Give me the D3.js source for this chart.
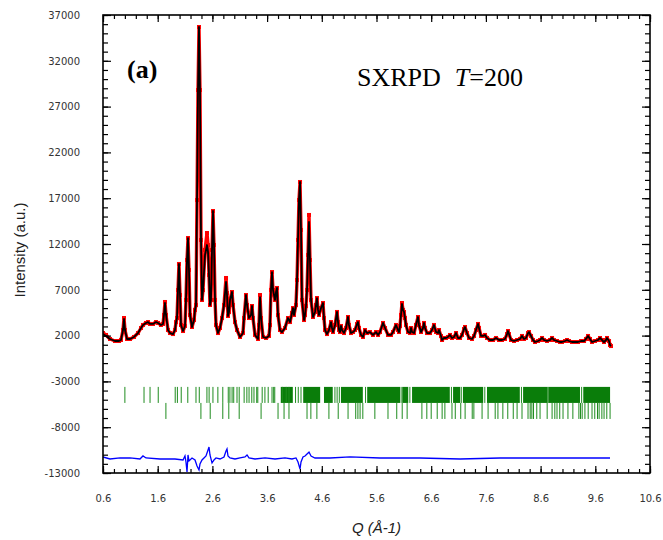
<!DOCTYPE html>
<html>
<head>
<meta charset="utf-8">
<script src="https://d3js.org/d3.v7.min.js"></script>
<style>
  body { margin: 0; background: #fff; }
  svg { display: block; }
</style>
</head>
<body>
<div class="chartDiv"></div>
<script>
"use strict";

//
/* Data: */
//

// Profile: Q positions, observed and calculated intensities
var qProfile = [0.600,0.655,0.728,0.819,0.893,0.929,0.966,0.984,1.002,1.039,1.094,1.167,1.240,1.295,1.331,1.386,1.423,1.459,1.514,1.569,1.606,1.660,1.697,1.715,1.733,1.752,1.788,1.825,1.880,1.916,1.935,1.953,1.971,1.989,2.008,2.026,2.063,2.099,2.117,2.136,2.154,2.172,2.191,2.227,2.264,2.282,2.300,2.319,2.337,2.355,2.373,2.392,2.410,2.428,2.465,2.501,2.520,2.538,2.556,2.574,2.593,2.611,2.629,2.648,2.666,2.702,2.739,2.776,2.812,2.849,2.867,2.885,2.904,2.922,2.958,2.977,3.013,3.050,3.105,3.159,3.178,3.214,3.233,3.269,3.306,3.324,3.342,3.379,3.434,3.452,3.470,3.489,3.525,3.580,3.635,3.653,3.671,3.690,3.708,3.745,3.763,3.781,3.799,3.836,3.872,3.927,3.982,4.019,4.055,4.074,4.092,4.128,4.147,4.165,4.183,4.202,4.220,4.238,4.275,4.293,4.311,4.330,4.348,4.366,4.384,4.403,4.439,4.476,4.494,4.512,4.531,4.549,4.586,4.622,4.640,4.659,4.695,4.732,4.769,4.787,4.805,4.842,4.878,4.897,4.915,4.933,4.951,4.970,5.006,5.043,5.079,5.097,5.134,5.171,5.207,5.244,5.262,5.280,5.317,5.353,5.390,5.426,5.481,5.536,5.591,5.628,5.664,5.719,5.756,5.810,5.865,5.902,5.957,5.993,6.011,6.030,6.048,6.066,6.085,6.103,6.121,6.139,6.176,6.213,6.231,6.249,6.286,6.322,6.359,6.377,6.414,6.450,6.468,6.487,6.523,6.578,6.615,6.651,6.688,6.724,6.743,6.779,6.798,6.834,6.871,6.907,6.944,6.980,7.017,7.054,7.090,7.127,7.163,7.200,7.218,7.255,7.291,7.346,7.383,7.419,7.456,7.474,7.511,7.547,7.584,7.620,7.675,7.730,7.785,7.840,7.894,7.949,7.986,8.004,8.022,8.059,8.114,8.169,8.224,8.260,8.297,8.333,8.370,8.388,8.425,8.461,8.498,8.553,8.589,8.626,8.662,8.717,8.772,8.809,8.845,8.900,8.955,8.991,9.046,9.083,9.119,9.174,9.229,9.284,9.339,9.394,9.430,9.467,9.503,9.540,9.595,9.650,9.686,9.723,9.759,9.796,9.814,9.851,9.869,9.887];

var calcIntensity = [2170,1960,1630,1410,1410,1520,2610,3810,2610,1630,1630,1850,2280,2830,3160,3380,3480,3270,3270,3480,3380,3160,3270,4250,5560,4250,2610,2280,2170,2610,3480,3920,6980,9820,6430,3160,2500,3050,5890,10250,12650,9160,4250,2940,3700,4800,5340,16800,28810,35690,28810,12440,5890,6980,10800,11890,11130,8620,5340,5890,11350,15600,11890,5890,3160,2280,2830,3920,5340,7850,6430,4140,4580,5890,6760,5340,3480,2610,1850,2280,3920,6430,5340,3920,4250,5230,3920,2070,1630,3160,6210,3920,1850,1740,1960,3160,6980,8940,6980,5890,6760,7200,4250,2610,2390,2830,3920,3480,4470,5010,4250,5340,8070,12440,16800,18770,13530,5890,3700,4250,5230,6980,10800,14400,10250,5890,4030,4580,5340,6100,4800,4250,5010,5560,3920,2610,2170,2610,3480,2830,2390,3160,4580,3480,2610,2390,3050,2610,2280,2830,4030,3160,2280,2390,2610,3270,3480,2830,2070,1850,2610,2280,2390,2070,2390,2070,2390,3380,2830,2070,2070,2390,3160,2610,2390,3050,4250,5450,4800,4580,3920,3160,2390,2280,2830,2390,2280,3160,4030,3160,2390,2830,3380,2830,2280,2280,2610,3160,2390,2280,2610,1960,1520,1740,1740,1850,2070,1740,1850,2280,1740,1740,2070,2720,2940,2280,1740,1630,1960,2610,3270,2830,1960,1960,2070,1740,1520,1520,1740,1520,1520,1630,2170,2500,2170,1520,1410,1520,1630,1960,1630,1740,2280,2390,1960,1520,1300,1410,1520,1740,1520,1410,1520,1740,1520,1410,1300,1300,1410,1520,1410,1300,1300,1300,1410,1410,1630,1960,1630,1300,1410,1520,1740,1520,1300,1520,1740,1410,970,860];

var obsIntensity = [2280,2070,1630,1410,1410,1520,2610,3920,2610,1630,1630,1850,2280,2830,3160,3380,3480,3270,3270,3480,3380,3160,3270,4250,5670,4250,2610,2280,2170,2610,3480,3920,6980,9820,6430,3160,2500,3050,5890,10250,12650,9160,4250,2940,3700,4800,5340,16800,28810,35690,28810,12440,5890,6980,11350,13200,11890,8620,5340,5890,11350,15600,11890,5890,3160,2280,2830,3920,5340,8290,6650,4140,4580,5890,6760,5340,3480,2610,1850,2280,3920,6430,5340,3920,4250,5230,3920,2070,1630,3160,6430,3920,1850,1740,1960,3160,6980,8940,6980,5890,6760,7200,4250,2610,2390,2830,3920,3480,4470,5010,4250,5340,8070,12440,16800,18770,13530,5890,3700,4250,5230,6980,10800,15170,10250,5890,4030,4580,5340,6100,4800,4250,5010,5560,3920,2610,2170,2610,3480,2830,2390,3160,4580,3480,2610,2390,3050,2610,2280,2830,4030,3160,2280,2390,2610,3270,3480,2830,2070,1850,2610,2280,2390,2070,2390,2070,2390,3380,2830,2070,2070,2390,3160,2610,2390,3050,4250,5560,4800,4580,3920,3160,2390,2280,2830,2390,2280,3160,4030,3160,2390,2830,3380,2830,2280,2280,2610,3160,2390,2280,2610,1960,1520,1740,1740,1850,2070,1740,1850,2280,1740,1740,2070,2720,2940,2280,1740,1630,1960,2610,3270,2830,1960,1960,2070,1740,1520,1520,1740,1520,1520,1630,2170,2500,2170,1520,1410,1520,1630,1960,1630,1740,2280,2390,1960,1520,1300,1410,1520,1740,1520,1410,1520,1740,1520,1410,1300,1300,1410,1520,1410,1300,1300,1300,1410,1410,1630,1960,1630,1300,1410,1520,1740,1520,1300,1520,1740,1410,970,860];

// Difference curve (obs - calc, offset)
var qDiff = [0.600,0.728,0.911,1.094,1.276,1.331,1.386,1.642,1.916,2.063,2.099,2.117,2.136,2.154,2.172,2.227,2.282,2.319,2.355,2.373,2.410,2.446,2.483,2.520,2.538,2.556,2.593,2.629,2.666,2.739,2.812,2.849,2.867,2.885,2.922,3.013,3.105,3.196,3.233,3.269,3.379,3.562,3.745,3.927,4.055,4.128,4.165,4.202,4.220,4.256,4.293,4.330,4.366,4.403,4.476,4.750,5.116,5.664,6.395,7.127,7.858,8.589,9.320,9.869];
var diffIntensity = [-11250,-11470,-11360,-11360,-11470,-11140,-11360,-11470,-11470,-11580,-11140,-11800,-12890,-11030,-11690,-11360,-11580,-12240,-12670,-12020,-11580,-11360,-11140,-10490,-10160,-11030,-11910,-11580,-11360,-11470,-11250,-10600,-10380,-11140,-11360,-11470,-11360,-11250,-11030,-11360,-11470,-11360,-11470,-11360,-11470,-11360,-11800,-12560,-11800,-11250,-11140,-10920,-10710,-11140,-11360,-11360,-11250,-11360,-11360,-11470,-11360,-11360,-11360,-11360];

// Bragg reflections, phase 1 (single marks and merged runs)
var braggPhase1 = [1.00,1.35,1.46,1.61,1.92,1.96,2.03,2.15,2.30,2.36,2.50,2.54,2.61,2.70,2.79,2.89,2.92,2.96,2.99,3.05,3.09,3.18,3.23,3.27,3.32,3.36,3.41,3.43,3.51,3.56,3.62,3.69,3.72,3.74,3.88,3.95,4.00,4.12,4.17,4.22,4.84,4.88,4.92,5.40,6.05,6.21,6.97,7.15,7.58,8.25,8.73,9.35];
var braggPhase1Runs = [[3.85,4.07],[4.26,4.57],[4.64,4.80],[4.95,5.35],[5.43,6.03],[6.07,6.18],[6.25,6.94],[7.00,7.13],[7.18,7.55],[7.62,8.22],[8.28,8.72],[8.74,9.32],[9.38,9.87]];

// Bragg reflections, phase 2
var braggPhase2 = [1.75,2.39,2.56,2.79,2.90,3.09,3.49,3.80,3.91,4.00,4.33,4.40,4.51,4.73,4.90,5.08,5.22,5.26,5.30,5.35,5.57,5.81,5.97,6.07,6.16,6.43,6.52,6.60,6.71,6.80,6.85,6.98,7.04,7.14,7.22,7.35,7.38,7.53,7.64,7.77,7.82,7.91,8.00,8.10,8.17,8.26,8.37,8.41,8.44,8.47,8.53,8.59,8.72,8.81,8.86,8.90,8.95,9.01,9.10,9.19,9.30,9.33,9.36,9.41,9.47,9.54,9.59,9.64,9.67,9.72,9.76,9.81,9.87];

// Axis ticks
var xTickValues = [0.6,1.6,2.6,3.6,4.6,5.6,6.6,7.6,8.6,9.6,10.6];
var yTickValues = [-13000,-8000,-3000,2000,7000,12000,17000,22000,27000,32000,37000];


//
/* Layout: */
//
var svgWidth = 663, svgHeight = 540;
var plot = { left: 103, right: 650, top: 15, bottom: 473 };

var xScale = d3.scaleLinear().domain([0.6, 10.6]).range([plot.left, plot.right]);
var yScale = d3.scaleLinear().domain([-13000, 37000]).range([plot.bottom, plot.top]);

var svg = d3.select(".chartDiv").append("svg")
    .attr("width", svgWidth)
    .attr("height", svgHeight);

var profile = qProfile.map(function(q, i) { return { q: q, obs: obsIntensity[i], calc: calcIntensity[i] }; });
var diff = qDiff.map(function(q, i) { return { q: q, v: diffIntensity[i] }; });

svg.append("clipPath").attr("id", "plotClip")
    .append("rect")
    .attr("x", plot.left).attr("y", plot.top)
    .attr("width", plot.right - plot.left).attr("height", plot.bottom - plot.top);

var gPlot = svg.append("g").attr("clip-path", "url(#plotClip)");

// Observed: red dotted band
var obsLine = d3.line().x(function(d) { return xScale(d.q); }).y(function(d) { return yScale(d.obs); });
gPlot.append("path")
    .datum(profile)
    .attr("d", obsLine)
    .attr("fill", "none")
    .attr("stroke", "#ff0000")
    .attr("stroke-width", 3.4)
    .attr("stroke-linejoin", "round");

gPlot.selectAll(".obsPt")
    .data(profile).enter()
    .append("rect")
    .attr("class", "obsPt")
    .attr("x", function(d) { return xScale(d.q) - 2; })
    .attr("y", function(d) { return yScale(d.obs) - 2; })
    .attr("width", 4)
    .attr("height", 4)
    .attr("fill", "#ff0000");

// Calculated: black line
var calcLine = d3.line().x(function(d) { return xScale(d.q); }).y(function(d) { return yScale(d.calc); });
gPlot.append("path")
    .datum(profile)
    .attr("d", calcLine)
    .attr("fill", "none")
    .attr("stroke", "#000")
    .attr("stroke-width", 1.8)
    .attr("stroke-linejoin", "round");

// Bragg marks
var row1 = [-3600, -5350];
var row2 = [-5350, -7100];

gPlot.selectAll(".run1")
    .data(braggPhase1Runs).enter()
    .append("rect")
    .attr("class", "run1")
    .attr("x", function(d) { return xScale(d[0]); })
    .attr("y", yScale(row1[0]))
    .attr("width", function(d) { return xScale(d[1]) - xScale(d[0]); })
    .attr("height", yScale(row1[1]) - yScale(row1[0]))
    .attr("fill", "#0a7d0a");

gPlot.selectAll(".tick1")
    .data(braggPhase1).enter()
    .append("line")
    .attr("class", "tick1")
    .attr("x1", function(d) { return xScale(d); })
    .attr("x2", function(d) { return xScale(d); })
    .attr("y1", yScale(row1[0]))
    .attr("y2", yScale(row1[1]))
    .attr("stroke", "#1f8c1f")
    .attr("stroke-width", 1);

gPlot.selectAll(".tick2")
    .data(braggPhase2).enter()
    .append("line")
    .attr("class", "tick2")
    .attr("x1", function(d) { return xScale(d); })
    .attr("x2", function(d) { return xScale(d); })
    .attr("y1", yScale(row2[0]))
    .attr("y2", yScale(row2[1]))
    .attr("stroke", "#1f8c1f")
    .attr("stroke-width", 1);

// Difference: blue line
var diffLine = d3.line().x(function(d) { return xScale(d.q); }).y(function(d) { return yScale(d.v); });
gPlot.append("path")
    .datum(diff)
    .attr("d", diffLine)
    .attr("fill", "none")
    .attr("stroke", "#0000ff")
    .attr("stroke-width", 1.3);


//
/* Axes: */
//
var xMinor = d3.range(0.6, 10.61, 0.2);
var yMinor = d3.range(-13000, 37001, 1000);

function styleAxis(g)
{
    g.select(".domain").remove();
    g.selectAll(".tick line").attr("stroke", "#000").attr("stroke-width", 1.2);
    g.selectAll(".tick text")
        .attr("fill", "#333")
        .style("font-family", "'DejaVu Sans', sans-serif")
        .style("font-size", "10px");
}

// minor ticks, all four sides
svg.append("g").attr("transform", "translate(0," + plot.bottom + ")")
    .call(d3.axisBottom(xScale).tickValues(xMinor).tickSize(-4).tickFormat("")).call(styleAxis);
svg.append("g").attr("transform", "translate(0," + plot.top + ")")
    .call(d3.axisTop(xScale).tickValues(xMinor).tickSize(-4).tickFormat("")).call(styleAxis);
svg.append("g").attr("transform", "translate(" + plot.left + ",0)")
    .call(d3.axisLeft(yScale).tickValues(yMinor).tickSize(-5).tickFormat("")).call(styleAxis);
svg.append("g").attr("transform", "translate(" + plot.right + ",0)")
    .call(d3.axisRight(yScale).tickValues(yMinor).tickSize(-5).tickFormat("")).call(styleAxis);

// major ticks with labels
svg.append("g").attr("transform", "translate(0," + plot.bottom + ")")
    .call(d3.axisBottom(xScale).tickValues(xTickValues).tickSize(-7).tickPadding(22)
        .tickFormat(function(d) { return d3.format(".1f")(d); }))
    .call(styleAxis);
svg.append("g").attr("transform", "translate(0," + plot.top + ")")
    .call(d3.axisTop(xScale).tickValues(xTickValues).tickSize(-7).tickFormat("")).call(styleAxis);
svg.append("g").attr("transform", "translate(" + plot.left + ",0)")
    .call(d3.axisLeft(yScale).tickValues(yTickValues).tickSize(-8).tickPadding(23)
        .tickFormat(function(d) { return d; }))
    .call(styleAxis);
svg.append("g").attr("transform", "translate(" + plot.right + ",0)")
    .call(d3.axisRight(yScale).tickValues(yTickValues).tickSize(-8).tickFormat("")).call(styleAxis);

// frame
svg.append("rect")
    .attr("x", plot.left).attr("y", plot.top)
    .attr("width", plot.right - plot.left).attr("height", plot.bottom - plot.top)
    .attr("fill", "none")
    .attr("stroke", "#000")
    .attr("stroke-width", 1.6);


//
/* Titles: */
//
svg.append("text")
    .attr("x", (plot.left + plot.right) / 2)
    .attr("y", 533)
    .attr("text-anchor", "middle")
    .style("font-family", "'Liberation Sans', Arial, sans-serif")
    .style("font-size", "15px")
    .style("font-style", "italic")
    .attr("fill", "#222")
    .text("Q (Å-1)");

svg.append("text")
    .attr("transform", "translate(25,250) rotate(-90)")
    .attr("text-anchor", "middle")
    .style("font-family", "'Liberation Sans', Arial, sans-serif")
    .style("font-size", "15px")
    .attr("fill", "#222")
    .text("Intensity (a.u.)");

svg.append("text")
    .attr("x", 127)
    .attr("y", 78)
    .style("font-family", "'Liberation Serif', 'Times New Roman', serif")
    .style("font-size", "26px")
    .style("font-weight", "bold")
    .text("(a)");

var label = svg.append("text")
    .attr("x", 357)
    .attr("y", 86)
    .style("font-family", "'Liberation Serif', 'Times New Roman', serif")
    .style("font-size", "26px");
label.append("tspan").text("SXRPD");
label.append("tspan").attr("dx", 14).style("font-style", "italic").text("T");
label.append("tspan").text("=200");
</script>
</body>
</html>
